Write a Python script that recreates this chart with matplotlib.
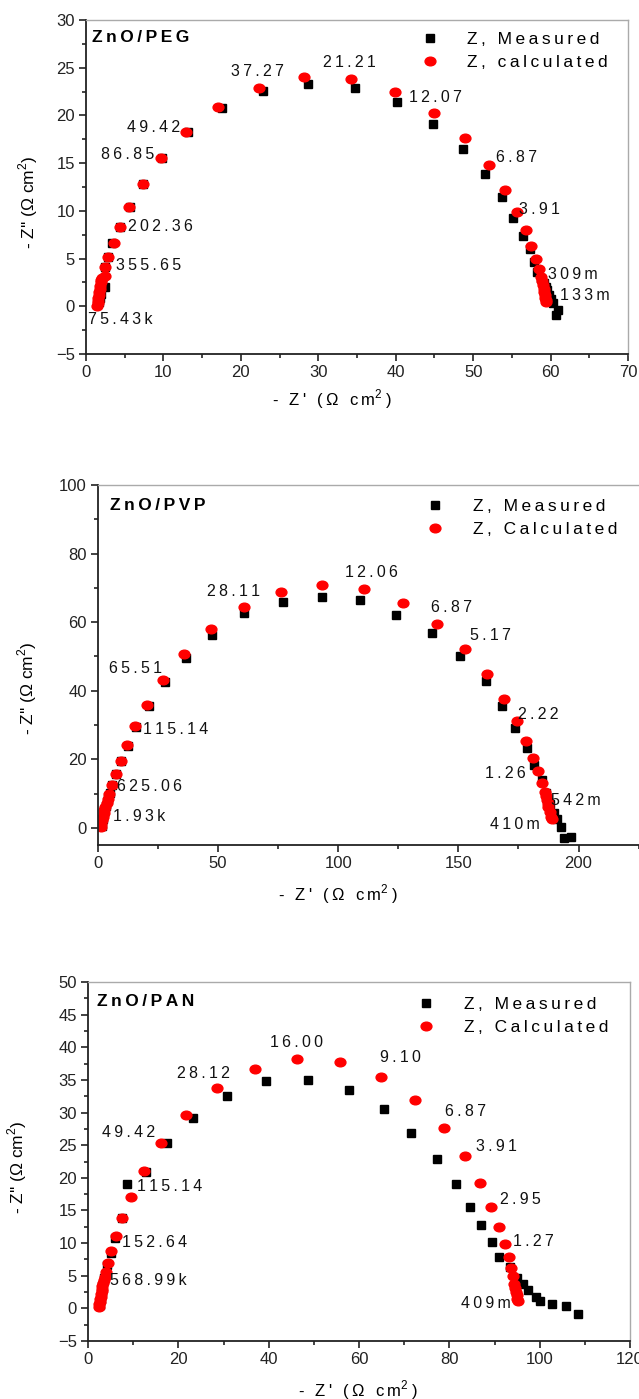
import matplotlib
matplotlib.use("Agg")
import numpy as np
import matplotlib.pyplot as plt
from matplotlib.ticker import MultipleLocator
from matplotlib.path import Path

plt.rcParams['font.family'] = ['Liberation Sans', 'DejaVu Sans']
plt.rcParams['mathtext.fontset'] = 'custom'
plt.rcParams['mathtext.rm'] = 'Liberation Sans'

# ---------------- Panel 1 : ZnO/PEG ----------------
peg_meas_x = [1.7, 1.8, 2.0, 2.4, 2.4, 2.9, 3.4, 4.4, 5.7, 7.4, 9.8, 13.2, 17.5, 22.8, 28.7,
              34.7, 40.2, 44.8, 48.7, 51.5, 53.7, 55.2, 56.4, 57.3, 57.8, 58.3, 58.8, 59.1,
              59.4, 59.6, 59.8, 60.0, 60.3, 60.9, 60.7]
peg_meas_y = [0.4, 0.9, 1.3, 2.0, 4.1, 5.2, 6.6, 8.3, 10.4, 12.8, 15.5, 18.3, 20.8, 22.6, 23.3,
              22.9, 21.4, 19.1, 16.5, 13.9, 11.4, 9.2, 7.4, 6.0, 4.6, 3.6, 3.0, 2.4,
              2.0, 1.7, 1.2, 0.8, 0.3, -0.4, -0.9]
peg_calc_x = [1.45, 1.5, 1.55, 1.6, 1.65, 1.7, 1.75, 1.8, 1.9, 2.0, 2.1, 2.4, 2.5, 2.9, 3.6, 4.4,
              5.6, 7.3, 9.7, 12.9, 17.1, 22.3, 28.1, 34.2, 39.9, 44.9, 48.9, 52.0, 54.1, 55.7,
              56.8, 57.5, 58.1, 58.5, 58.8, 58.95, 59.05, 59.1, 59.2, 59.25, 59.3, 59.35, 59.4]
peg_calc_y = [0.05, 0.3, 0.6, 0.9, 1.2, 1.5, 1.8, 2.1, 2.5, 2.8, 3.0, 3.2, 4.1, 5.2, 6.6, 8.3,
              10.4, 12.8, 15.5, 18.3, 20.9, 22.9, 24.0, 23.8, 22.5, 20.3, 17.6, 14.8, 12.2, 9.9,
              8.0, 6.3, 5.0, 3.9, 3.1, 2.6, 2.2, 1.8, 1.5, 1.2, 0.9, 0.7, 0.45]
peg_labels = ['37.27', '21.21', '12.07', '49.42', '86.85', '202.36', '355.65', '75.43k',
              '6.87', '3.91', '309m', '133m']
peg_label_x = [18.7, 30.6, 41.7, 5.3, 1.9, 5.4, 3.9, 0.25, 53.0, 55.9, 59.7, 61.2]
peg_label_y = [24.6, 25.5, 21.9, 18.7, 15.9, 8.4, 4.3, -1.4, 15.6, 10.1, 3.3, 1.1]

# ---------------- Panel 2 : ZnO/PVP ----------------
pvp_meas_x = [1.5, 2.0, 2.6, 3.2, 4.0, 4.8, 6.0, 7.6, 9.6, 12.4, 15.9, 21.1, 28.0, 36.6, 47.6,
              60.8, 76.9, 93.2, 109.0, 124.1, 139.1, 150.6, 161.4, 168.1, 173.7, 178.5,
              181.6, 184.7, 186.3, 188.0, 189.7, 190.9, 192.8, 194.0, 197.0]
pvp_meas_y = [0.5, 2.5, 4.5, 6.5, 8.5, 10.2, 12.6, 15.6, 19.4, 24.0, 29.5, 35.5, 42.5, 49.6, 56.3,
              62.8, 65.9, 67.4, 66.4, 62.1, 56.9, 50.0, 42.7, 35.5, 29.2, 23.3,
              18.4, 14.1, 10.3, 7.1, 4.4, 2.7, 0.3, -3.0, -2.6]
pvp_calc_x = [1.2, 1.4, 1.7, 2.0, 2.3, 2.7, 3.1, 3.6, 4.0, 4.5, 5.8, 7.4, 9.4, 12.2, 15.6, 20.6,
              27.1, 35.7, 46.9, 60.9, 76.1, 93.2, 110.7, 127.0, 141.1, 152.8, 161.9, 169.1,
              174.4, 178.2, 180.9, 183.0, 184.7, 185.9, 186.4, 186.8, 187.2, 187.5, 188.0, 188.5, 188.8]
pvp_calc_y = [0.3, 1.2, 2.2, 3.2, 4.2, 5.2, 6.2, 7.2, 8.4, 10.0, 12.5, 15.7, 19.5, 24.1, 29.7, 35.9,
              43.1, 50.7, 57.9, 64.3, 68.9, 70.7, 69.6, 65.5, 59.5, 52.3, 44.8, 37.6,
              31.1, 25.3, 20.5, 16.5, 13.2, 10.5, 9.2, 8.1, 7.0, 6.1, 4.7, 3.2, 2.7]
pvp_labels = ['28.11', '12.06', '6.87', '5.17', '2.22', '1.26', '542m', '410m',
              '65.51', '115.14', '625.06', '1.93k']
pvp_label_x = [45.2, 102.7, 138.7, 155.0, 174.6, 161.0, 188.4, 163.0, 4.6, 18.7, 7.9, 6.2]
pvp_label_y = [69.0, 74.4, 64.3, 56.0, 33.0, 15.8, 7.9, 0.9, 46.5, 28.7, 12.0, 3.2]

# ---------------- Panel 3 : ZnO/PAN ----------------
pan_meas_x = [2.6, 2.8, 3.0, 3.2, 3.5, 4.1, 5.0, 6.0, 7.5, 8.6, 12.9, 17.4, 23.2, 30.7, 39.5,
              48.6, 57.7, 65.5, 71.6, 77.3, 81.4, 84.5, 87.1, 89.5, 91.1, 93.5, 94.9, 96.2,
              97.5, 99.2, 100.0, 102.8, 105.9, 108.4]
pan_meas_y = [0.5, 1.5, 2.5, 3.5, 4.6, 6.6, 8.5, 10.8, 13.8, 19.0, 20.9, 25.3, 29.2, 32.5, 34.8,
              35.0, 33.5, 30.6, 26.8, 22.9, 19.0, 15.6, 12.7, 10.1, 7.9, 6.4, 4.6, 3.8,
              2.8, 1.8, 1.1, 0.7, 0.4, -0.9]
pan_calc_x = [2.4, 2.5, 2.6, 2.7, 2.8, 2.9, 3.0, 3.1, 3.2, 3.35, 3.5, 3.7, 3.9, 4.4, 5.1, 6.1,
              7.5, 9.5, 12.4, 16.2, 21.7, 28.6, 36.9, 46.3, 55.9, 64.9, 72.5, 78.8, 83.4, 86.8,
              89.3, 91.0, 92.3, 93.1, 93.7, 94.1, 94.4, 94.6, 94.75, 94.9, 95.0, 95.1]
pan_calc_y = [0.25, 0.6, 1.0, 1.4, 1.8, 2.2, 2.6, 3.0, 3.4, 3.9, 4.3, 4.8, 5.5, 6.9, 8.8, 11.1,
              13.8, 17.1, 21.0, 25.3, 29.6, 33.7, 36.7, 38.2, 37.8, 35.5, 31.9, 27.7, 23.3, 19.2,
              15.6, 12.5, 9.9, 7.9, 6.2, 4.9, 3.8, 3.1, 2.5, 2.0, 1.5, 1.1]
pan_labels = ['16.00', '28.12', '9.10', '6.87', '3.91', '2.95', '1.27', '409m',
              '49.42', '115.14', '152.64', '568.99k']
pan_label_x = [40.4, 19.8, 64.7, 79.1, 86.0, 91.2, 94.0, 82.5, 3.0, 10.8, 7.5, 4.9]
pan_label_y = [40.7, 36.0, 38.4, 30.2, 24.8, 16.7, 10.3, 0.8, 26.9, 18.7, 10.1, 4.3]

W, H = 639, 1399
fig = plt.figure(figsize=(W / 100, H / 100), dpi=100)

TS = '\u2009'


def track(s):
    return TS.join(s)


_uc = Path.unit_circle()
ellipse = Path(_uc.vertices * np.array([1.0, 0.8]), _uc.codes)


def px_axes(left, top, right, bottom):
    return fig.add_axes([left / W, 1 - bottom / H, (right - left) / W, (bottom - top) / H])


panels = [
    dict(rect=(86, 20, 628, 354), xlim=(0, 70), ylim=(-5, 30), xmaj=10, xmin=5, ymaj=5, ymin=2.5,
         title='ZnO/PEG', title_xy=(92, 37), calc_name='Z, calculated',
         leg=(430, 32, 467), xlab=0.454, ylab=(-0.085, 0.455), xlab_y=-0.099,
         mx=peg_meas_x, my=peg_meas_y, cx=peg_calc_x, cy=peg_calc_y,
         lab=peg_labels, lx=peg_label_x, ly=peg_label_y),
    dict(rect=(98, 485, 641, 845), xlim=(0, 226), ylim=(-5, 100), xmaj=50, xmin=25, ymaj=20, ymin=10,
         title='ZnO/PVP', title_xy=(110, 505), calc_name='Z, Calculated',
         leg=(435, 499, 473), xlab=0.442, ylab=(-0.109, 0.436), xlab_y=-0.103,
         mx=pvp_meas_x, my=pvp_meas_y, cx=pvp_calc_x, cy=pvp_calc_y,
         lab=pvp_labels, lx=pvp_label_x, ly=pvp_label_y),
    dict(rect=(88, 982, 630, 1341), xlim=(0, 120), ylim=(-5, 50), xmaj=20, xmin=10, ymaj=5, ymin=2.5,
         title='ZnO/PAN', title_xy=(97, 1001), calc_name='Z, Calculated',
         leg=(426, 997, 464), xlab=0.498, ylab=(-0.109, 0.485), xlab_y=-0.103,
         mx=pan_meas_x, my=pan_meas_y, cx=pan_calc_x, cy=pan_calc_y,
         lab=pan_labels, lx=pan_label_x, ly=pan_label_y),
]

LEG_FS = 12.5
em = LEG_FS * 100 / 72.0

for p in panels:
    ax = px_axes(*p['rect'])
    ax.plot(p['mx'], p['my'], marker='s', color='black', markersize=6, linestyle='none',
            label=track('Z, Measured'))
    ax.plot(p['cx'], p['cy'], marker=ellipse, color='#ff0000', markersize=7.8, linestyle='none',
            label=track(p['calc_name']))
    ax.set_xlim(*p['xlim'])
    ax.set_ylim(*p['ylim'])
    ax.xaxis.set_major_locator(MultipleLocator(p['xmaj']))
    ax.xaxis.set_minor_locator(MultipleLocator(p['xmin']))
    ax.yaxis.set_major_locator(MultipleLocator(p['ymaj']))
    ax.yaxis.set_minor_locator(MultipleLocator(p['ymin']))
    ax.tick_params(which='both', direction='out', top=False, right=False, colors='#222222',
                   labelsize=12, width=1.2)
    ax.tick_params(which='major', length=5, pad=3)
    ax.tick_params(which='minor', length=3)
    for s in ['left', 'bottom']:
        ax.spines[s].set_color('#222222')
        ax.spines[s].set_linewidth(1.3)
    for s in ['top', 'right']:
        ax.spines[s].set_color('#aaaaaa')
        ax.spines[s].set_linewidth(1.0)
    ax.set_xlabel(track("- Z' (\u03a9 ") + TS + track("cm") + "$^{2}$" + TS + ")", fontsize=12)
    ax.xaxis.set_label_coords(p['xlab'], p['xlab_y'])
    ax.set_ylabel("- Z'' (\u03a9 cm$^{2}$)", fontsize=12.5)
    ax.yaxis.set_label_coords(*p['ylab'])
    fig.text(p['title_xy'][0] / W, 1 - p['title_xy'][1] / H, track(p['title']), fontsize=12.5,
             fontweight='bold', ha='left', va='center')
    for t, x, y in zip(p['lab'], p['lx'], p['ly']):
        ax.text(x, y, track(t), fontsize=11.5, ha='left', va='center', color='#111111')
    mxp, top, txp = p['leg']
    hl = 0.9
    pad = (txp - mxp - hl * em / 2) / em
    ax.legend(loc='upper left', frameon=False, fontsize=LEG_FS, handletextpad=pad,
              borderaxespad=0, borderpad=0, labelspacing=0.45, handlelength=hl,
              bbox_to_anchor=((mxp - hl * em / 2) / W, 1 - top / H),
              bbox_transform=fig.transFigure)

fig.savefig('out.png', dpi=100)
